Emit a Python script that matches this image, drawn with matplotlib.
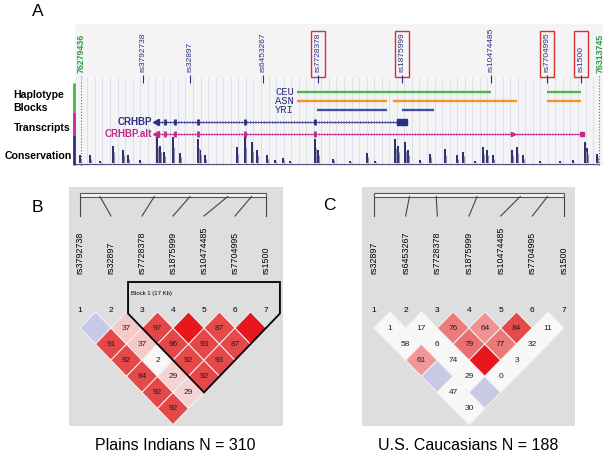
import numpy as np
import matplotlib
matplotlib.use("Agg")
import matplotlib.pyplot as plt
from matplotlib.patches import Polygon, Rectangle
from matplotlib.colors import LinearSegmentedColormap

plt.rcParams['font.family'] = ['Liberation Sans', 'DejaVu Sans']

W, H = 606, 462

# ---- data ----
region_start = 76279436
region_end = 76313745

snp_names = ['rs3792738', 'rs32897', 'rs6453267', 'rs7728378', 'rs1875999',
             'rs10474485', 'rs7704995', 'rs1500']
snp_pos = [76283542, 76286655, 76291490, 76295133, 76300696,
           76306590, 76310299, 76312551]
snp_boxed = ['rs7728378', 'rs1875999', 'rs7704995', 'rs1500']

hap_pops = ['CEU', 'ASN', 'YRI']
hap_blocks = {
    'CEU': [(76293742, 76306590), (76310299, 76312551)],
    'ASN': [(76293742, 76299702), (76300100, 76308312), (76310299, 76312551)],
    'YRI': [(76295066, 76299702), (76300696, 76302815)],
}

tx_names = ['CRHBP', 'CRHBP.alt']
tx_start = [76284403, 76284403]
tx_end = [76301027, 76312617]
tx_exons = [76284536, 76284999, 76285662, 76287185, 76290298, 76294934]
crhbp_last_exon = (76300365, 76301027)
alt_mark = 76308047

# conservation peaks: kb from region start, relative score
cons_kb = [-0.05, 0.60, 1.26, 2.12, 2.78, 3.11, 3.90, 5.03, 5.23, 5.50, 6.09, 6.56,
           7.75, 7.88, 8.21, 10.33, 10.86, 11.33, 11.66, 12.32, 12.85, 13.38, 13.84,
           15.50, 15.70, 16.69, 17.80, 18.94, 19.50, 20.80, 21.00, 21.46, 21.66,
           22.45, 23.11, 24.11, 24.90, 25.30, 26.10, 26.62, 26.89, 27.29, 28.55,
           28.88, 29.27, 30.40, 31.70, 32.58, 33.38, 33.51, 34.17]
cons_score = [0.31, 0.31, 0.10, 0.69, 0.50, 0.31, 0.12, 1.00, 0.69, 0.45, 1.00, 0.40,
              0.96, 0.50, 0.31, 0.62, 1.00, 0.81, 0.50, 0.31, 0.15, 0.23, 0.10,
              0.96, 0.50, 0.19, 0.10, 0.42, 0.08, 0.96, 0.69, 0.81, 0.50,
              0.12, 0.38, 0.54, 0.31, 0.46, 0.10, 0.62, 0.50, 0.31, 0.50,
              0.65, 0.31, 0.10, 0.08, 0.12, 0.81, 0.58, 0.38]

# LD panels: D' (x100) for pairs (i<j), 100 = not printed; strong = LOD >= 2
b_markers = ['rs3792738', 'rs32897', 'rs7728378', 'rs1875999', 'rs10474485', 'rs7704995', 'rs1500']
b_dprime = [[100, 91, 92, 84, 92, 92],
            [37, 37, 2, 29, 29],
            [97, 96, 92, 92],
            [100, 93, 93],
            [87, 87],
            [100]]
b_strong = [[0, 1, 1, 1, 1, 1],
            [1, 1, 0, 1, 1],
            [1, 1, 1, 1],
            [1, 1, 1],
            [1, 1],
            [1]]
b_block = (3, 7, 'Block 1 (17 Kb)')

c_markers = ['rs32897', 'rs6453267', 'rs7728378', 'rs1875999', 'rs10474485', 'rs7704995', 'rs1500']
c_dprime = [[1, 58, 61, 100, 47, 30],
            [17, 6, 74, 29, 100],
            [76, 79, 100, 0],
            [64, 77, 3],
            [84, 32],
            [11]]
c_strong = [[0, 0, 1, 0, 0, 0],
            [0, 0, 0, 0, 0],
            [1, 1, 1, 0],
            [1, 1, 0],
            [1, 0],
            [0]]

titles = ['Plains Indians N = 310', 'U.S. Caucasians N = 188']

# ---- colours ----
navy = '#2a2f7e'
magenta = '#c4278f'
green_c = '#2f9a3f'
hap_colors = {'CEU': '#4cb848', 'ASN': '#f29428', 'YRI': '#3f52a3'}
ld_cmap = LinearSegmentedColormap.from_list(
    'ld', [(0, '#f7f3f3'), (0.35, '#f6cdcd'), (0.62, '#f09696'),
           (0.78, '#eb7878'), (0.84, '#e54a4a'), (1.0, '#e34646')])


def cell_color(d, strong):
    if not strong:
        return '#c9c8e6' if d == 100 else '#f8f8f8'
    if d == 100:
        return '#e8161d'
    return ld_cmap(d / 100)


fig = plt.figure(figsize=(W / 100, H / 100), dpi=100)


def px_axes(x0, y0, x1, y1, **kw):
    return fig.add_axes([x0 / W, 1 - y1 / H, (x1 - x0) / W, (y1 - y0) / H], **kw)


def bare(ax):
    ax.set_xticks([])
    ax.set_yticks([])
    for s in ax.spines.values():
        s.set_visible(False)


# ---- panel A ----
bp_px = (region_end - region_start) / 518.0
ax = px_axes(75, 24, 603, 166, facecolor='#f4f4f6')
ax.set_xlim(region_start - 6 * bp_px, region_end + 4 * bp_px)
ax.set_ylim(166, 24)
bare(ax)

grid = np.arange(region_start + 420, region_end, 500)
ax.vlines(grid, 77, 166, color='#dcdce6', lw=0.6, zorder=0)
ax.vlines([region_start, region_end], 76, 166, color=green_c, lw=0.8, ls=':', zorder=1)
ax.text(region_start, 73, str(region_start), rotation=90, ha='center', va='bottom',
        fontsize=6.3, color=green_c, fontweight='bold')
ax.text(region_end + 1.6 * bp_px, 73, str(region_end), rotation=90, ha='center', va='bottom',
        fontsize=6.3, color=green_c, fontweight='bold')

for name, pos in zip(snp_names, snp_pos):
    ax.vlines(pos, 75.5, 83, color=navy, lw=0.8)
    ax.text(pos, 72, name, rotation=90, ha='center', va='bottom', fontsize=6, color=navy)
    if name in snp_boxed:
        ax.add_patch(Rectangle((pos - 7 * bp_px, 31), 14 * bp_px, 46, fill=False,
                               ec='#d8312c', lw=1.0))

lab_x = min(s for blocks in hap_blocks.values() for s, e in blocks) - 3 * bp_px
for k, pop in enumerate(hap_pops):
    y = 92 + 9 * k
    for s, e in hap_blocks[pop]:
        ax.hlines(y, s, e, color=hap_colors[pop], lw=1.7)
    ax.text(lab_x, y, pop, ha='right', va='center', fontsize=7.6, color=navy,
            family='Liberation Mono')

for k, (name, s, e) in enumerate(zip(tx_names, tx_start, tx_end)):
    y = 122 + 12 * k
    col = navy if k == 0 else magenta
    ax.hlines(y, s, e, color=col, lw=0.6)
    ax.plot([s, e], [y, y], color=col, lw=2.2, ls=(0, (0.3, 0.6)), alpha=0.6)
    ax.vlines(tx_exons, y - 3.2, y + 3.2, color=col, lw=2.0)
    ax.plot(s, y, marker='<', ms=3.8, color=col)
    ax.text(s - 4 * bp_px, y, name, ha='right', va='center', fontsize=7,
            color=col, fontweight='bold')
    if k == 0:
        ax.broken_barh([(crhbp_last_exon[0], crhbp_last_exon[1] - crhbp_last_exon[0])],
                       (y - 2.8, 5.6), color=col)
    else:
        ax.plot(alt_mark, y, marker='>', ms=3, color=col)
        ax.plot(e, y, marker='s', ms=2.5, color=col)

cons_x = [region_start + k * 1000 for k in cons_kb]
cons_top = [163.5 - s * 26 for s in cons_score]
ax.vlines(cons_x, 163.5, cons_top, color='#1c1d5e', lw=1.3)
ax.vlines([x + 60 for x in cons_x], 163.5, [163.5 - s * 16 for s in cons_score],
          color='#9090b0', lw=0.8)
ax.hlines(164, region_start - 6 * bp_px, region_end, color='#50507a', lw=0.8)

# overlay for free text and the track colour bars
ov = px_axes(0, 0, W, H)
ov.set_xlim(0, W)
ov.set_ylim(H, 0)
ov.axis('off')
for txt, x, y in [('Haplotype', 13, 95), ('Blocks', 13, 108),
                  ('Transcripts', 14, 128), ('Conservation', 5, 156)]:
    ov.text(x, y, txt, ha='left', va='center', fontsize=7.6, fontweight='bold')
ov.vlines(74, 83, 112, color='#4cb848', lw=2)
ov.vlines(74, 112, 135, color=magenta, lw=2)
ov.vlines(74, 135, 165, color=navy, lw=2)
ov.text(38, 12, 'A', fontsize=12.5, ha='center', va='center')
ov.text(37, 207, 'B', fontsize=12.5, ha='center', va='center')
ov.text(329, 206, 'C', fontsize=12.5, ha='center', va='center')


# ---- LD panels ----
def draw_ld(box, col1, step, markers, dprime, strong, block=None):
    x0, y0, x1, y1 = box
    a = px_axes(x0, y0, x1, y1, facecolor='#dedede')
    a.set_xlim((x0 - col1) / step + 1, (x1 - col1) / step + 1)
    a.set_ylim(y1, y0)
    bare(a)
    n = len(markers)
    pos = [snp_pos[snp_names.index(m)] for m in markers]
    bar_x = [1 + (n - 1) * (p - pos[0]) / (pos[-1] - pos[0]) for p in pos]
    for k in range(n):
        a.plot([bar_x[k], k + 1], [196.5, 216], color='#444444', lw=0.8)
        a.text(k + 1, 274, markers[k], rotation=90, ha='center', va='bottom', fontsize=6.4)
        a.text(k + 1, 310, str(k + 1), ha='center', va='center', fontsize=6)
    a.add_patch(Rectangle((1, 192.5), n - 1, 4, fc='#f4f4f4', ec='#555555', lw=0.8))
    dy = 16.1
    for i in range(n - 1):
        for m, (d, s) in enumerate(zip(dprime[i], strong[i])):
            j = i + m + 1
            xc = (i + j) / 2 + 1
            yc = 328 + (j - i - 1) * dy
            a.add_patch(Polygon([(xc - 0.5, yc), (xc, yc - dy), (xc + 0.5, yc), (xc, yc + dy)],
                                closed=True, fc=cell_color(d, s), ec='#f4f4f4', lw=0.7))
            if d != 100:
                a.text(xc, yc, str(d), ha='center', va='center', fontsize=6, color='#202020')
    if block is not None:
        bi, bj, label = block
        xl, xr = bi - 0.45, bj + 0.45
        xm = (bi + bj) / 2
        ybot = 328 + (bj - bi - 1) * dy + dy
        yside = ybot - (xm - xl) * 2 * dy
        a.add_patch(Polygon([(xl, 282), (xr, 282), (xr, yside), (xm, ybot), (xl, yside)],
                            closed=True, fill=False, ec='black', lw=1.3, zorder=5))
        a.text(xl + 0.08, 293, label, ha='left', va='center', fontsize=4.3)
    return a


draw_ld((69, 187, 283, 426), 80, 31.0, b_markers, b_dprime, b_strong, b_block)
draw_ld((362, 187, 575, 426), 374, 31.67, c_markers, c_dprime, c_strong)

ov.text(175, 446, titles[0], ha='center', va='center', fontsize=11.5)
ov.text(468, 446, titles[1], ha='center', va='center', fontsize=11.5)

fig.savefig('out.png', dpi=100)
